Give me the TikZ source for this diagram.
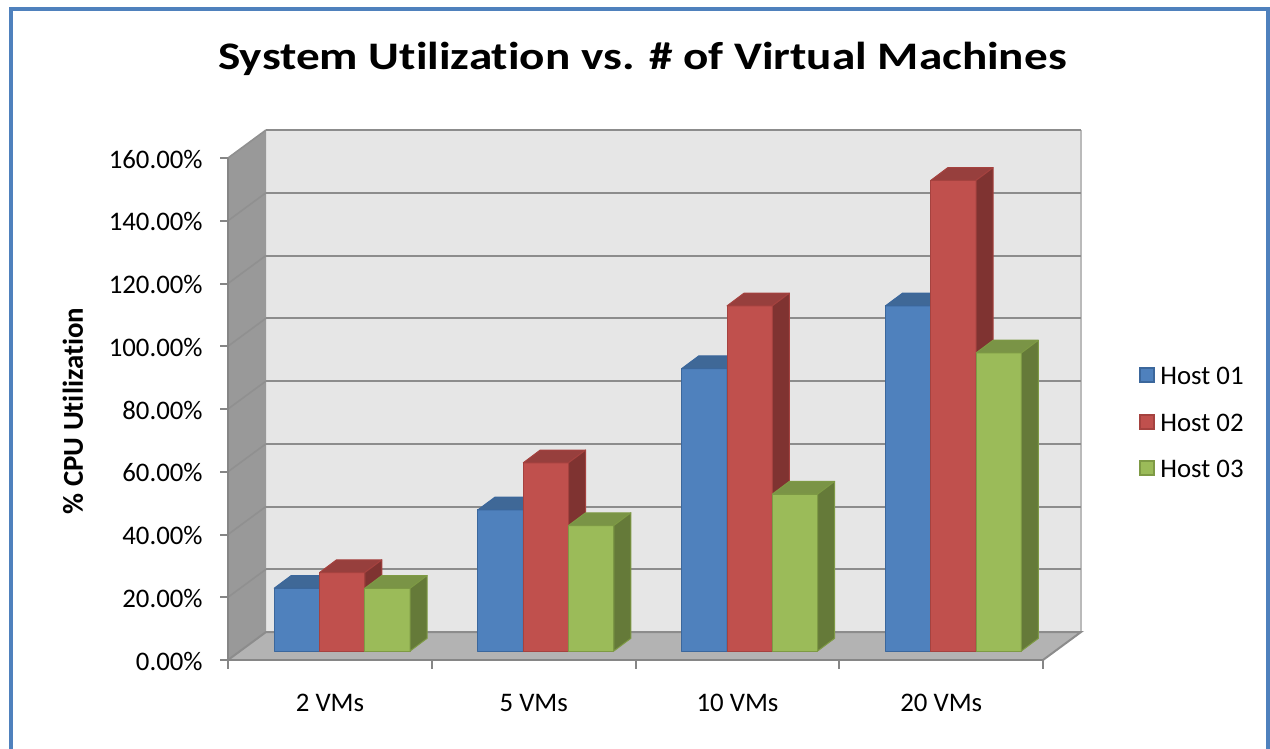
\documentclass[tikz,border=0pt]{standalone}
\usepackage{fontspec}
\setmainfont{Carlito}[Ligatures=NoCommon]
\definecolor{frameblue}{HTML}{4F81BD}
\definecolor{blueF}{HTML}{4F81BD}
\definecolor{blueT}{HTML}{3F6897}
\definecolor{blueS}{HTML}{385C87}
\definecolor{blueL}{HTML}{3B679C}
\definecolor{redF}{HTML}{C0504D}
\definecolor{redT}{HTML}{973F3D}
\definecolor{redS}{HTML}{7F3331}
\definecolor{redL}{HTML}{A5423F}
\definecolor{greenF}{HTML}{9BBB59}
\definecolor{greenT}{HTML}{7A9446}
\definecolor{greenS}{HTML}{657A39}
\definecolor{greenL}{HTML}{7E9A45}
\definecolor{wallback}{HTML}{E6E6E6}
\definecolor{wallside}{HTML}{999999}
\definecolor{floorgray}{HTML}{B3B3B3}
\definecolor{gridgray}{HTML}{8C8C8C}
\definecolor{axisgray}{HTML}{868686}

% one 3-D column: #1 = left x of front face, #2 = value in %, #3 = colour prefix
\newcommand\drawcolumn[3]{%
  \pgfmathsetmacro\cxa{#1}%
  \pgfmathsetmacro\cxb{#1+45.3}%
  \pgfmathsetmacro\cxc{#1+17}%
  \pgfmathsetmacro\cxd{#1+45.3+17}%
  \pgfmathsetmacro\cyt{651-#2*3.1375}%
  \pgfmathsetmacro\cyb{651-#2*3.1375-12.7}%
  \filldraw[colface, fill=#3F, draw=#3L] (\cxa,651) rectangle (\cxb,\cyt);
  \filldraw[colface, fill=#3T, draw=#3L] (\cxa,\cyt) -- (\cxb,\cyt) -- (\cxd,\cyb) -- (\cxc,\cyb) -- cycle;
  \filldraw[colface, fill=#3S, draw=#3L] (\cxb,651) -- (\cxb,\cyt) -- (\cxd,\cyb) -- (\cxd,638.3) -- cycle;
}

\begin{document}
\begin{tikzpicture}[x=0.5pt, y=-0.5pt,
  colface/.style={line width=0.5pt, line join=round},
  gridline/.style={draw=gridgray, line width=1pt},
  sidegrid/.style={draw=gridgray!70!wallside, line width=0.8pt},
  axisline/.style={draw=axisgray, line width=1pt},
  ticklabel/.style={font=\fontsize{13.4}{15}\selectfont, inner sep=0pt},
  legendbox/.style={minimum width=7pt, minimum height=7pt, inner sep=0pt, line width=0.6pt}]

\useasboundingbox (0,0) rectangle (1270,749);
\fill[white] (0,0) rectangle (1270,749);

% chart frame
\draw[frameblue, line width=2pt] (10.5,770) -- (10.5,9.5) -- (1268,9.5) -- (1268,770);

% title
\node[anchor=base, inner sep=0pt, font=\fontsize{19.5}{22}\selectfont\bfseries] (title)
  at (642.5,70) {\scalebox{1.21}[1]{System Utilization vs. \# of Virtual Machines}};

% walls and floor
\fill[wallback] (266,130) rectangle (1081,632);
\fill[wallside] (228,158) -- (266,130) -- (266,632) -- (228,660) -- cycle;
\fill[floorgray] (228,660) -- (266,632) -- (1081,632) -- (1043,660) -- cycle;
\draw[draw=gridgray!60!white, line width=0.6pt] (1081,130) -- (1081,632);

% gridlines on the back and side walls
\foreach \k in {1,...,8} {
  \pgfmathsetmacro\gy{632-\k*62.75}
  \pgfmathsetmacro\sy{660-\k*62.75}
  \draw[gridline] (266,\gy) -- (1081,\gy);
  \draw[sidegrid] (228,\sy) -- (266,\gy);
}
\draw[gridline] (228,660) -- (266,632) -- (1081,632) -- (1043,660);

% value axis with ticks and labels
\draw[axisline] (228,158) -- (228,660) -- (1043,660);
\foreach \k/\lab in {0/0.00\%,1/20.00\%,2/40.00\%,3/60.00\%,4/80.00\%,5/100.00\%,6/120.00\%,7/140.00\%,8/160.00\%} {
  \pgfmathsetmacro\ty{660-\k*62.75}
  \draw[axisline] (220,\ty) -- (228,\ty);
  \node[ticklabel, anchor=east] (ytick\k) at (203,\ty+1) {\lab};
}

% category axis ticks and labels
\foreach \k in {0,...,4} {
  \pgfmathsetmacro\tx{228+\k*203.75}
  \draw[axisline] (\tx,660) -- (\tx,669);
}
\foreach \k/\lab in {0/2 VMs,1/5 VMs,2/10 VMs,3/20 VMs} {
  \pgfmathsetmacro\lx{330+\k*203.75}
  \node[ticklabel] (xcat\k) at (\lx,703) {\lab};
}

% axis title
\node[rotate=90, inner sep=0pt, font=\fontsize{14.4}{16}\selectfont\bfseries] (ytitle)
  at (73,411) {\% CPU Utilization};

% columns
\foreach \g/\va/\vb/\vc in {0/20/25/20, 1/45/60/40, 2/90/110/50, 3/110/150/95} {
  \pgfmathsetmacro\gx{274.2+\g*203.75}
  \drawcolumn{\gx}{\va}{blue}
  \drawcolumn{\gx+45.3}{\vb}{red}
  \drawcolumn{\gx+90.6}{\vc}{green}
}

% legend
\node[legendbox, fill=blueF, draw=blueL] (key1) at (1147,375) {};
\node[legendbox, fill=redF, draw=redL] (key2) at (1147,422) {};
\node[legendbox, fill=greenF, draw=greenL] (key3) at (1147,468) {};
\node[ticklabel, anchor=west] (lab1) at (1160,376) {Host 01};
\node[ticklabel, anchor=west] (lab2) at (1160,423) {Host 02};
\node[ticklabel, anchor=west] (lab3) at (1160,469) {Host 03};
\end{tikzpicture}
\end{document}
